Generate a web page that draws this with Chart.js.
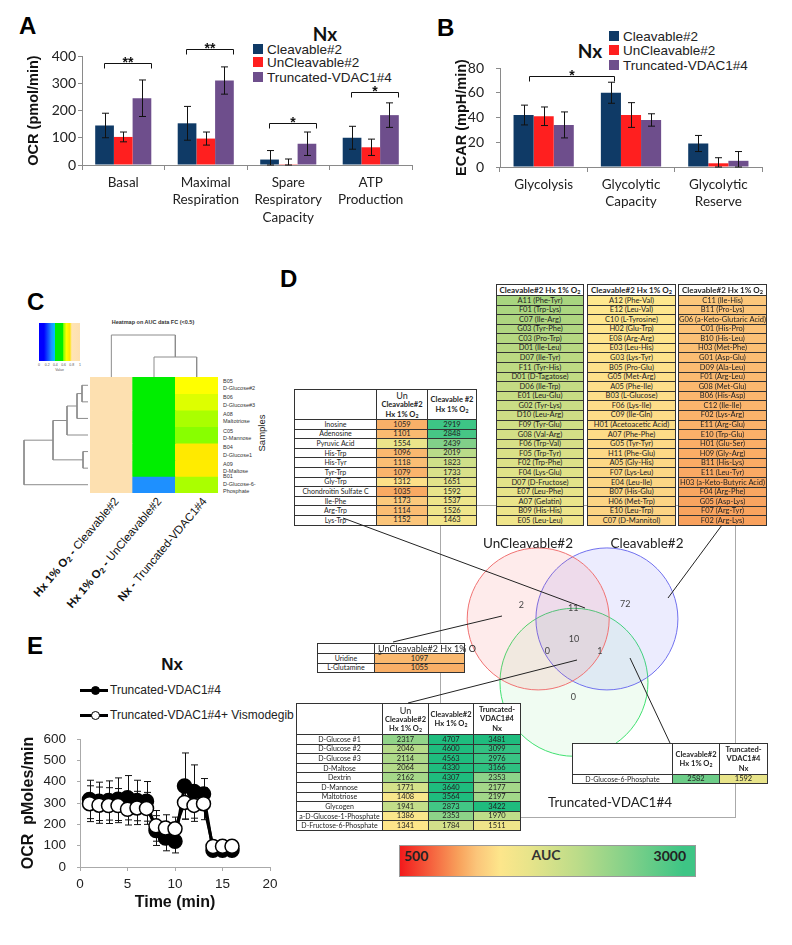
<!DOCTYPE html>
<html>
<head>
<meta charset="utf-8">
<title>Nx / Hx metabolic panels</title>
<script src="https://cdn.jsdelivr.net/npm/chart.js@4.4.1/dist/chart.umd.min.js"></script>
<style>
  html,body{margin:0;padding:0;background:#fff}
  #fig{position:relative;width:792px;height:945px;overflow:hidden;font-family:'Liberation Sans',Arial,sans-serif;color:#111}
  #fig canvas{position:absolute}
  .txt{position:absolute;white-space:nowrap;line-height:1}
  .panel{font-weight:bold;font-size:24px;color:#000}
  .sw{position:absolute;width:10px;height:10px}
  .grid{position:absolute;display:grid;border-top:1px solid #333;border-left:1px solid #333;background:#fff;z-index:3;font-family:Lato,sans-serif;color:#222}
  .grid>div{border-right:1px solid #333;border-bottom:1px solid #333;box-sizing:border-box;display:flex;flex-direction:column;align-items:center;justify-content:center;text-align:center;white-space:nowrap;overflow:hidden;line-height:1}
  sub{font-size:70%;vertical-align:-0.2em;line-height:0}
</style>
</head>
<body>
<div id="fig"></div>
<script>
/* ═══════════════════════════════════════
   Data
═══════════════════════════════════════ */
const GROUPS = ['Cleavable#2','UnCleavable#2','Truncated-VDAC1#4'];

/* ── A: OCR (Nx) ── */
const OCR_CATS        = [['Basal'],['Maximal','Respiration'],['Spare','Respiratory','Capacity'],['ATP','Production']];
const OCR_CLEAV       = [145,153,20,100];
const OCR_CLEAV_ERR   = [45,62,33,42];
const OCR_UNCLEAV     = [103,97,3,65];
const OCR_UNCLEAV_ERR = [18,24,19,30];
const OCR_TRUNC       = [245,310,78,183];
const OCR_TRUNC_ERR   = [67,50,43,45];
const OCR_TICKS       = [0,100,200,300,400];
const OCR_SIG_Y       = [375,425,155,267];
const OCR_SIG_MARK    = ['**','**','*','*'];

/* ── B: ECAR (Nx) ── */
const ECAR_CATS        = ['Glycolysis',['Glycolytic','Capacity'],['Glycolytic','Reserve']];
const ECAR_CLEAV       = [42,60,19];
const ECAR_CLEAV_ERR   = [8,8.5,6.5];
const ECAR_UNCLEAV     = [41,42,3];
const ECAR_UNCLEAV_ERR = [7.5,10,4.5];
const ECAR_TRUNC       = [34,38,5];
const ECAR_TRUNC_ERR   = [10.5,5,7.5];
const ECAR_TICKS       = [0,20,40,60,80];
const ECAR_SIG_Y       = 73.5;

/* ── C: heatmap on AUC FC ── */
const HEAT_COLS    = ['Hx 1% O<sub>2</sub> - ','Hx 1% O<sub>2</sub> - ','Nx - '];
const HEAT_COLS_B  = ['Cleavable#2','UnCleavable#2','Truncated-VDAC1#4'];
const HEAT_WELLS   = ['B05','B06','A08','C05','B04','A09','B01'];
const HEAT_ROWS    = ['D-Glucose#2','D-Glucose#3','Maltotriose','D-Mannose','D-Glucose1','D-Maltose','D-Glucose-6-<br>Phosphate'];
const HEAT_CLEAV   = [1,1,1,1,1,1,1];
const HEAT_UNCLEAV = [0.44,0.46,0.40,0.49,0.49,0.48,0.30];
const HEAT_TRUNC   = [0.67,0.65,0.62,0.60,0.74,0.73,0.62];
const ROW_TREE     = [[0,1,6],[7,2,11],[8,3,21],[4,5,5],[9,10,35],[11,6,64]];
const COL_TREE     = [[1,2,20],[0,3,42]];
const KEY_TICKS    = ['0','0.2','0.4','0.6','0.8','1'];

/* ── D: Biolog AUC tables + venn ── */
const LEFT_NAMES = ['Inosine','Adenosine','Pyruvic Acid','His-Trp','His-Tyr','Tyr-Trp','Gly-Trp','Chondroitin Sulfate C','Ile-Phe','Arg-Trp','Lys-Trp'];
const LEFT_UN    = [1059,1101,1554,1096,1118,1079,1312,1035,1173,1114,1152];
const LEFT_CL    = [2919,2848,2439,2019,1823,1733,1651,1592,1537,1526,1463];

const URI_NAMES = ['Uridine','L-Glutamine'];
const URI_UN    = [1097,1055];

const BOT_NAMES = ['D-Glucose #1','D-Glucose #2','D-Glucose #3','D-Maltose','Dextrin','D-Mannose','Maltotriose','Glycogen','a-D-Glucose-1-Phosphate','D-Fructose-6-Phosphate'];
const BOT_UN    = [2317,2046,2114,2064,2162,1771,1408,1941,1386,1341];
const BOT_CL    = [4707,4600,4563,4330,4307,3640,3564,2873,2353,1784];
const BOT_TR    = [3481,3099,2976,3166,2353,2177,2197,3422,1970,1511];

const G6P_NAME = ['D-Glucose-6-Phosphate'];
const G6P_CL   = [2582];
const G6P_TR   = [1592];

const TOP_COL1 = ['A11 (Phe-Tyr)','F01 (Trp-Lys)','C07 (Ile-Arg)','G03 (Tyr-Phe)','C03 (Pro-Trp)','D01 (Ile-Leu)','D07 (Ile-Tyr)','F11 (Tyr-His)','D01 (D-Tagatose)','D06 (Ile-Trp)','E01 (Leu-Glu)','G02 (Tyr-Lys)','D10 (Leu-Arg)','F09 (Tyr-Glu)','G08 (Val-Arg)','F06 (Trp-Val)','F05 (Trp-Tyr)','F02 (Trp-Phe)','F04 (Lys-Glu)','D07 (D-Fructose)','E07 (Leu-Phe)','A07 (Gelatin)','B09 (His-His)','E05 (Leu-Leu)'];
const TOP_COL2 = ['A12 (Phe-Val)','E12 (Leu-Val)','C10 (L-Tyrosine)','H02 (Glu-Trp)','E08 (Arg-Arg)','E03 (Leu-His)','G03 (Lys-Tyr)','B05 (Pro-Glu)','G05 (Met-Arg)','A05 (Phe-Ile)','B03 (L-Glucose)','F06 (Lys-Ile)','C09 (Ile-Gln)','H01 (Acetoacetic Acid)','A07 (Phe-Phe)','G05 (Tyr-Tyr)','H11 (Phe-Glu)','A05 (Gly-His)','F07 (Lys-Leu)','E04 (Leu-Ile)','B07 (His-Glu)','H06 (Met-Trp)','E10 (Leu-Trp)','C07 (D-Mannitol)'];
const TOP_COL3 = ['C11 (Ile-His)','B11 (Pro-Lys)','G06 (a-Keto-Glutaric Acid)','C01 (His-Pro)','B10 (His-Leu)','H03 (Met-Phe)','G01 (Asp-Glu)','D09 (Ala-Leu)','F01 (Arg-Leu)','G08 (Met-Glu)','B06 (His-Asp)','C12 (Ile-Ile)','F02 (Lys-Arg)','E11 (Arg-Glu)','E10 (Trp-Glu)','H01 (Glu-Ser)','H09 (Gly-Arg)','B11 (His-Lys)','E11 (Leu-Tyr)','H03 (a-Keto-Butyric Acid)','F04 (Arg-Phe)','G05 (Asp-Lys)','F07 (Arg-Tyr)','F02 (Arg-Lys)'];

const VENN_SETS   = ['UnCleavable#2','Cleavable#2','Truncated-VDAC1#4'];
// Un only, Un∩Cl, Cl only, all three, Un∩Tr, Cl∩Tr, Tr only
const VENN_COUNTS = [2,11,72,10,0,1,0];
const AUC_RANGE   = [500,3000];

/* ── E: OCR time course ── */
const TIME_MIN  = [1,2,3,4,5,6,7,8,9,10,11,12,13,14,15,16];
const OCR_T     = [317,308,312,318,325,312,308,171,136,121,380,354,343,79,78,78];
const OCR_T_ERR = [90,90,92,100,104,95,93,70,60,55,155,125,72,0,0,0];
const OCR_V     = [297,290,288,288,271,277,275,193,183,179,303,289,297,96,97,97];
const OCR_V_ERR = [84,85,84,80,74,78,75,72,62,55,79,75,75,0,0,0];
const TIME_TICKS = [0,5,10,15,20];
const OCRE_TICKS = [0,100,200,300,400,500,600];

/* ═══════════════════════════════════════
   Helpers
═══════════════════════════════════════ */
const GROUP_COLORS = ['#0f3a66','#ff1f1f','#6e4e8c'];
const fig = document.getElementById('fig');
Chart.defaults.animation = false;
Chart.defaults.font.family = "'Liberation Sans', Arial, sans-serif";
Chart.defaults.color = '#222';

function put(html, css) {
  const d = document.createElement('div');
  d.className = 'txt';
  d.innerHTML = html;
  d.style.cssText += css;
  fig.appendChild(d);
  return d;
}
function canvas(id, x, y, w, h, z) {
  const c = document.createElement('canvas');
  c.id = id; c.width = w; c.height = h;
  c.style.left = x + 'px'; c.style.top = y + 'px'; c.style.zIndex = z || 1;
  if (z >= 5) c.style.pointerEvents = 'none';
  fig.appendChild(c);
  return c;
}
function hex(c) { return [1,3,5].map(i => parseInt(c.substr(i,2),16)); }
function mix(stops, v) {
  if (v <= stops[0][0]) return stops[0][1];
  for (let i = 1; i < stops.length; i++) {
    if (v <= stops[i][0]) {
      const [a, ca] = stops[i-1], [b, cb] = stops[i];
      const t = (v - a) / (b - a), A = hex(ca), B = hex(cb);
      return 'rgb(' + A.map((x,k) => Math.round(x + (B[k]-x)*t)).join(',') + ')';
    }
  }
  return stops[stops.length-1][1];
}
function ramp(c0, c1, n, i) { return mix([[0,c0],[1,c1]], n > 1 ? i/(n-1) : 0); }

const AUC_STOPS = [[500,'#f21a1c'],[1000,'#f8a25c'],[1150,'#fbc57a'],[1350,'#fde68b'],[1600,'#e7e48a'],[2000,'#bcdc89'],[2450,'#80d089'],[2900,'#3ec585'],[3400,'#1fbc7e']];
const aucColor = v => mix(AUC_STOPS, v);
const HEAT_STOPS = [[0,'#0000ff'],[0.12,'#0000ff'],[0.3,'#1e90ff'],[0.38,'#00bfff'],[0.4,'#00ee00'],[0.58,'#00ee00'],[0.6,'#88ff00'],[0.67,'#ffff00'],[0.75,'#ffe600'],[0.8,'#ffe4b5'],[1,'#fde0b0']];
const heatColor = v => mix(HEAT_STOPS, v);

/* ── plugins ── */
function drawErrors(chart) {
  const ctx = chart.ctx;
  chart.data.datasets.forEach((ds, i) => {
    if (!ds.errors) return;
    const meta = chart.getDatasetMeta(i), ys = chart.scales[meta.yAxisID];
    ctx.save(); ctx.strokeStyle = '#111'; ctx.lineWidth = 1;
    meta.data.forEach((el, j) => {
      const raw = ds.data[j], v = typeof raw === 'object' ? raw.y : raw, e = ds.errors[j];
      if (!e) return;
      const top = ys.getPixelForValue(v + e), bot = ys.getPixelForValue(Math.max(v - e, ys.min));
      const x = Math.round(el.x) + 0.5, cap = ds.errorCap || 3.5;
      ctx.beginPath();
      ctx.moveTo(x, top); ctx.lineTo(x, bot);
      ctx.moveTo(x - cap, top); ctx.lineTo(x + cap, top);
      ctx.moveTo(x - cap, bot); ctx.lineTo(x + cap, bot);
      ctx.stroke();
    });
    ctx.restore();
  });
}
const errorBarPlugin = {
  id: 'errBars',
  beforeDatasetsDraw(chart, a, o) { if (o.behind) drawErrors(chart); },
  afterDatasetsDraw(chart, a, o) { if (!o.behind) drawErrors(chart); }
};
const sigPlugin = {
  id: 'sigBrackets',
  afterDatasetsDraw(chart, a, o) {
    const {ctx} = chart, ys = chart.scales.y;
    (o.items || []).forEach(it => {
      const p = chart.getDatasetMeta(it.a[1]).data[it.a[0]];
      const q = chart.getDatasetMeta(it.b[1]).data[it.b[0]];
      const x1 = Math.round(p.x + o.lo) + 0.5, x2 = Math.round(q.x + o.ro) + 0.5, y = Math.round(ys.getPixelForValue(it.y)) + 0.5;
      ctx.save();
      ctx.strokeStyle = '#111'; ctx.lineWidth = 1;
      ctx.beginPath(); ctx.moveTo(x1, y + 5); ctx.lineTo(x1, y); ctx.lineTo(x2, y); ctx.lineTo(x2, y + 5); ctx.stroke();
      ctx.fillStyle = '#111'; ctx.font = "bold 14px 'Liberation Sans'"; ctx.textAlign = 'center'; ctx.textBaseline = 'alphabetic';
      ctx.fillText(it.text, (x1 + x2) / 2, y + 3);
      ctx.restore();
    });
  }
};
const textPlugin = {
  id: 'pointText',
  afterDatasetsDraw(chart) {
    const ctx = chart.ctx;
    chart.data.datasets.forEach((ds, i) => {
      if (!ds.texts) return;
      ctx.save(); ctx.font = ds.textFont; ctx.fillStyle = ds.textColor; ctx.textAlign = 'center'; ctx.textBaseline = 'middle';
      chart.getDatasetMeta(i).data.forEach((el, j) => ctx.fillText(ds.texts[j], el.x, el.y));
      ctx.restore();
    });
  }
};

/* ═══════════════════════════════════════
   A / B: grouped bars
═══════════════════════════════════════ */
function buildBars(id, g, labels, vals, errs, ticks, yTitle, sig) {
  const c = canvas(id, g.x, g.y, g.w, g.h, 1);
  return new Chart(c, {
    type: 'bar',
    data: {
      labels,
      datasets: vals.map((v, i) => ({
        label: GROUPS[i], data: v, errors: errs[i], backgroundColor: GROUP_COLORS[i],
        borderWidth: 0, categoryPercentage: g.cat, barPercentage: 1
      }))
    },
    options: {
      responsive: false, animation: false, events: [],
      layout: { padding: g.pad },
      plugins: { legend: { display: false }, tooltip: { enabled: false }, errBars: {}, sigBrackets: { items: sig, lo: g.lo, ro: g.ro } },
      scales: {
        x: {
          grid: { display: true, drawOnChartArea: false, tickLength: 5, color: '#8a8a8a' },
          border: { color: '#8a8a8a' },
          ticks: { font: { family: 'Lato', size: 13.5, lineHeight: 1.28 }, color: '#222', padding: 4, maxRotation: 0, autoSkip: false },
          afterFit: s => { s.height = g.xh; }
        },
        y: {
          min: ticks[0], max: ticks[ticks.length - 1],
          ticks: { stepSize: ticks[1] - ticks[0], font: { family: 'Lato', size: 14 }, color: '#222', padding: g.tp },
          grid: { display: true, drawOnChartArea: false, tickLength: 4, color: '#8a8a8a' },
          border: { color: '#8a8a8a' },
          title: { display: true, text: yTitle, color: '#111', font: { size: 14.5, weight: 'bold' }, padding: { top: g.titlePad, bottom: 0 } },
          afterFit: s => { s.width = g.yw; }
        }
      }
    },
    plugins: [errorBarPlugin, sigPlugin]
  });
}

function legend(x, ys, nx, ny, size) {
  put('Nx', `left:${nx}px;top:${ny}px;transform:translate(-50%,-50%);font:bold 19px Lato`);
  GROUPS.forEach((g, i) => {
    const s = document.createElement('div');
    s.className = 'sw';
    s.style.cssText += `left:${x}px;top:${ys[i]-5}px;background:${GROUP_COLORS[i]}`;
    fig.appendChild(s);
    put(g, `left:${x+14}px;top:${ys[i]-6.5}px;font-size:${size}px;color:#222`);
  });
}

buildBars('ocrChart',
  { x:0, y:0, w:420, h:228, pad:{left:0, top:56, right:8, bottom:0}, yw:82, xh:63, cat:0.68, tp:2, titlePad:25, lo:-1, ro:9 },
  OCR_CATS, [OCR_CLEAV, OCR_UNCLEAV, OCR_TRUNC], [OCR_CLEAV_ERR, OCR_UNCLEAV_ERR, OCR_TRUNC_ERR],
  OCR_TICKS, 'OCR (pmol/min)',
  OCR_SIG_Y.map((y, k) => ({ a:[k,0], b:[k,2], y, text: OCR_SIG_MARK[k] })));
legend(253, [49,62,77], 325, 33, 13.5);

buildBars('ecarChart',
  { x:415, y:0, w:377, h:228, pad:{left:0, top:68, right:30, bottom:0}, yw:85, xh:61, cat:0.69, tp:12, titlePad:38, lo:5, ro:3 },
  ECAR_CATS, [ECAR_CLEAV, ECAR_UNCLEAV, ECAR_TRUNC], [ECAR_CLEAV_ERR, ECAR_UNCLEAV_ERR, ECAR_TRUNC_ERR],
  ECAR_TICKS, 'ECAR (mpH/min)',
  [{ a:[0,0], b:[1,0], y: ECAR_SIG_Y, text:'*' }]);
legend(609, [36,50,65], 590, 50, 13.5);

put('A', 'left:19px;top:14px').className += ' panel';
put('B', 'left:437px;top:16px').className += ' panel';

/* ═══════════════════════════════════════
   C: heatmap + dendrograms
═══════════════════════════════════════ */
(function buildHeatmap() {
  const c = canvas('heatChart', 90, 377, 128, 116, 1);
  const colVals = [HEAT_CLEAV, HEAT_UNCLEAV, HEAT_TRUNC];
  new Chart(c, {
    type: 'bar',
    data: {
      labels: HEAT_COLS_B,
      datasets: HEAT_ROWS.map((r, i) => ({
        label: HEAT_WELLS[i], data: colVals.map(() => 1),
        backgroundColor: colVals.map(v => heatColor(v[i])),
        borderWidth: 0, categoryPercentage: 1, barPercentage: 1, stack: 's'
      }))
    },
    options: {
      responsive: false, animation: false, events: [], layout: { padding: 0 },
      plugins: { legend: { display: false }, tooltip: { enabled: false } },
      scales: {
        x: { stacked: true, display: false },
        y: { stacked: true, display: false, min: 0, max: HEAT_ROWS.length, reverse: true }
      }
    }
  });

  function treeSegments(n, merges, leafPos) {
    const pos = [], h = [];
    for (let i = 0; i < n; i++) { pos.push(leafPos(i)); h.push(0); }
    const segs = [];
    merges.forEach(([a, b, d]) => {
      segs.push([[pos[a], h[a]], [pos[a], d], [pos[b], d], [pos[b], h[b]]]);
      pos.push((pos[a] + pos[b]) / 2); h.push(d);
    });
    return segs;
  }
  const lineDs = pts => ({ data: pts, showLine: true, borderColor: '#8c8c8c', borderWidth: 1, pointRadius: 0, tension: 0 });
  const dendroOpts = (xs, ys) => ({
    responsive: false, animation: false, events: [], layout: { padding: 0 },
    plugins: { legend: { display: false }, tooltip: { enabled: false } },
    scales: { x: Object.assign({ type: 'linear', display: false }, xs), y: Object.assign({ type: 'linear', display: false }, ys) }
  });

  const rowSegs = treeSegments(HEAT_ROWS.length, ROW_TREE, i => i + 0.5);
  new Chart(canvas('rowTree', 18, 377, 70, 116, 1), {
    type: 'scatter',
    data: { datasets: rowSegs.map(s => lineDs(s.map(([p, d]) => ({ x: d, y: p })))) },
    options: dendroOpts({ min: 0, max: 70, reverse: true }, { min: 0, max: HEAT_ROWS.length, reverse: true })
  });
  const colSegs = treeSegments(HEAT_COLS_B.length, COL_TREE, i => i + 0.5);
  new Chart(canvas('colTree', 90, 330, 128, 47, 1), {
    type: 'scatter',
    data: { datasets: colSegs.map(s => lineDs(s.map(([p, d]) => ({ x: p, y: d })))) },
    options: dendroOpts({ min: 0, max: HEAT_COLS_B.length }, { min: 0, max: 47 })
  });

  const rh = 116 / HEAT_ROWS.length;
  HEAT_ROWS.forEach((r, i) => {
    const d = put(HEAT_WELLS[i] + '<br>' + r, `left:223px;font-size:5.5px;line-height:7.5px;color:#333`);
    const lines = r.split('<br>').length + 1;
    d.style.top = (377 + rh * (i + 0.5) - lines * 3.75) + 'px';
  });
  put('Samples', 'left:262px;top:433px;font-size:9.5px;color:#222;transform:translate(-50%,-50%) rotate(-90deg)');
  put('Heatmap on AUC data FC (&lt;0.5)', 'left:153px;top:323px;font-size:5.5px;font-weight:bold;color:#333;transform:translate(-50%,-50%)');

  [116, 159, 204].forEach((x, i) => {
    put(`<b>${HEAT_COLS[i]}</b>${HEAT_COLS_B[i]}`,
      `right:${792 - x}px;top:${499 - 7}px;height:14px;line-height:14px;font-size:11.5px;color:#111;transform-origin:100% 50%;transform:rotate(-50deg)`);
  });

  const css = HEAT_STOPS.map(([v, col]) => `${col} ${v * 100}%`).join(',');
  put('', `left:39px;top:323px;width:41px;height:38px;background:linear-gradient(to right,${css})`);
  KEY_TICKS.forEach((t, i) => put(t, `left:${39 + i * 41 / 5}px;top:364px;font-size:3.5px;color:#555;transform:translateX(-50%)`));
  put('Value', 'left:59.5px;top:369px;font-size:3.5px;color:#555;transform:translateX(-50%)');
})();
put('C', 'left:27px;top:290px').className += ' panel';

/* ═══════════════════════════════════════
   D: tables + venn
═══════════════════════════════════════ */
function grid(x, y, cols, rows, cells) {
  const g = document.createElement('div');
  g.className = 'grid';
  g.style.left = x + 'px'; g.style.top = y + 'px';
  g.style.gridTemplateColumns = cols.map(c => c + 'px').join(' ');
  g.style.gridTemplateRows = rows.map(r => r + 'px').join(' ');
  cells.forEach(c => {
    const d = document.createElement('div');
    d.innerHTML = c.h;
    if (c.bg) d.style.background = c.bg;
    if (c.css) d.style.cssText += c.css;
    g.appendChild(d);
  });
  fig.appendChild(g);
  return g;
}
const O2 = 'Hx 1% O<sub>2</sub>';
const hUn = { h: `<div style="font-size:9px;font-weight:normal;margin-bottom:1px">Un</div><div><b>Cleavable#2</b></div><div style="margin-top:2px"><b>${O2}</b></div>`, css: 'font-size:7.5px' };
const hCl = { h: `<div><b>Cleavable#2</b></div><div style="margin-top:2px"><b>${O2}</b></div>`, css: 'font-size:7.5px' };
const hTr = { h: `<div><b>Truncated-</b></div><div style="margin-top:2px"><b>VDAC1#4</b></div><div style="margin-top:2px"><b>Nx</b></div>`, css: 'font-size:7.5px' };
const name = t => ({ h: t, css: 'font-size:7px' });
const val = v => ({ h: String(v), bg: aucColor(v), css: 'font-size:7.5px' });

// hypoxia: UnCleavable vs Cleavable
grid(294, 389, [82, 51, 49], [30].concat(LEFT_NAMES.map(() => 9.6)),
  [{ h: '' }, hUn, { h: `<div><b>Cleavable #2</b></div><div style="margin-top:2px"><b>${O2}</b></div>`, css: 'font-size:7.5px' }]
    .concat(...LEFT_NAMES.map((n, i) => [name(n), val(LEFT_UN[i]), val(LEFT_CL[i])])));

// cleavable-only metabolites, three columns
const TOP_RAMPS = [['#a8d57f', '#f0e58b'], ['#fee88e', '#fcd283'], ['#fcc77b', '#f9a15d']];
[TOP_COL1, TOP_COL2, TOP_COL3].forEach((col, k) => {
  grid([496, 587, 678][k], 284, [k ? 88 : 87], [11].concat(col.map(() => 9.58)),
    [{ h: `<b>Cleavable#2 ${O2}</b>`, css: 'font-size:8px' }]
      .concat(col.map((t, i) => ({ h: t, bg: ramp(TOP_RAMPS[k][0], TOP_RAMPS[k][1], col.length, i), css: 'font-size:7.5px' }))));
});

// uncleavable-only
grid(317, 643, [57, 90], [10, 9.5, 9.5],
  [{ h: '' }, { h: `UnCleavable#2 ${O2}`, css: 'font-size:9px;overflow:visible;align-items:flex-start;padding-left:3px;position:relative;z-index:1' }]
    .concat(...URI_NAMES.map((n, i) => [name(n), val(URI_UN[i])])));

// shared by all three
grid(296, 703, [86, 46, 45, 47], [31].concat(BOT_NAMES.map(() => 9.6)),
  [{ h: '' }, hUn, hCl, hTr]
    .concat(...BOT_NAMES.map((n, i) => [name(n), val(BOT_UN[i]), val(BOT_CL[i]), val(BOT_TR[i])])));

// cleavable ∩ truncated
grid(572, 743, [100, 47, 48], [31, 9],
  [{ h: '' }, hCl, hTr].concat(...G6P_NAME.map((n, i) => [name(n), val(G6P_CL[i]), val(G6P_TR[i])])));

// venn frame
put('', 'left:440px;top:505px;width:294px;height:311px;border:1px solid #aaa;z-index:0');

(function buildVenn() {
  const W = 502, H = 610;             // panel-D frame, origin (290,280)
  const circles = [{ x: 247, y: 350, r: 71 }, { x: 345, y: 350, r: 71 }, { x: 298, y: 434, r: 74 }];
  const countAt = [[223, 331], [297, 335], [371, 330], [298, 377], [260, 392], [335, 392], [297, 454]];
  const fills = ['rgba(250,70,70,0.11)', 'rgba(80,80,250,0.11)', 'rgba(60,220,90,0.08)'];
  const strokes = ['#f07272', '#7070ee', '#40e070'];
  const scales = {
    x: { type: 'linear', min: 0, max: W, display: false },
    y: { type: 'linear', min: 0, max: H, reverse: true, display: false }
  };
  const base = () => ({ responsive: false, animation: false, events: [], layout: { padding: 0 },
    plugins: { legend: { display: false }, tooltip: { enabled: false } }, scales: JSON.parse(JSON.stringify(scales)) });

  new Chart(canvas('vennChart', 290, 280, W, H, 2), {
    type: 'bubble',
    data: { datasets: [
      { label: 'counts', data: countAt.map(p => ({ x: p[0], y: p[1], r: 0 })), texts: VENN_COUNTS.map(String),
        textFont: "9px Lato", textColor: '#444', backgroundColor: 'transparent', borderWidth: 0 }
    ].concat(VENN_SETS.map((s, i) => ({ label: s, data: [circles[i]], backgroundColor: fills[i], borderColor: strokes[i], borderWidth: 1 }))) },
    options: base(),
    plugins: [textPlugin]
  });

  // leader lines from venn regions to the tables
  const leaders = [[[53, 238], [295, 328]], [[378, 318], [432, 245]], [[212, 336], [103, 362]], [[287, 380], [118, 423]], [[340, 378], [380, 463]]];
  new Chart(canvas('leaderChart', 290, 280, W, H, 5), {
    type: 'scatter',
    data: { datasets: leaders.map(l => ({ data: l.map(p => ({ x: p[0], y: p[1] })), showLine: true, borderColor: '#222', borderWidth: 1, pointRadius: 0 })) },
    options: base()
  });

  put(VENN_SETS[0], 'left:528px;top:543px;font:13.5px Lato;color:#222;transform:translate(-50%,-50%);z-index:2');
  put(VENN_SETS[1], 'left:647px;top:543px;font:13.5px Lato;color:#222;transform:translate(-50%,-50%);z-index:2');
  put(VENN_SETS[2], 'left:610px;top:802px;font:13.5px Lato;color:#222;transform:translate(-50%,-50%);z-index:2');
})();

// AUC colour bar
(function () {
  const [lo, hi] = AUC_RANGE;
  const css = AUC_STOPS.filter(s => s[0] <= hi).map(([v, c]) => `${c} ${((v - lo) / (hi - lo) * 100).toFixed(1)}%`).join(',');
  put('', `left:399px;top:845px;width:295px;height:30px;border:1px solid #999;background:linear-gradient(to right,${css})`);
  put(String(lo), 'left:404px;top:847px;font:bold 14px Lato;color:#222');
  put('AUC', 'left:546px;top:854px;font:bold 14px Lato;color:#333;transform:translate(-50%,-50%)');
  put(String(hi), 'right:106px;top:847px;font:bold 14px Lato;color:#222');
})();
put('D', 'left:280px;top:267px').className += ' panel';

/* ═══════════════════════════════════════
   E: OCR time course
═══════════════════════════════════════ */
(function buildTimeCourse() {
  const c = canvas('timeChart', 0, 720, 290, 200, 1);
  const pts = ys => TIME_MIN.map((t, i) => ({ x: t, y: ys[i] }));
  new Chart(c, {
    type: 'line',
    data: { datasets: [
      { label: 'Truncated-VDAC1#4+ Vismodegib', data: pts(OCR_V), errors: OCR_V_ERR, errorCap: 3.5, order: 0,
        borderColor: '#000', borderWidth: 3, tension: 0, pointRadius: 7, pointBackgroundColor: '#fff', pointBorderColor: '#000', pointBorderWidth: 1.5 },
      { label: 'Truncated-VDAC1#4', data: pts(OCR_T), errors: OCR_T_ERR, errorCap: 3.5, order: 1,
        borderColor: '#000', borderWidth: 3, tension: 0, pointRadius: 7, pointBackgroundColor: '#000', pointBorderColor: '#000', pointBorderWidth: 1.5 }
    ] },
    options: {
      responsive: false, animation: false, events: [],
      layout: { padding: { left: 0, top: 7, right: 20, bottom: 0 } },
      plugins: { legend: { display: false }, tooltip: { enabled: false }, errBars: { behind: true } },
      scales: {
        x: { type: 'linear', min: TIME_TICKS[0], max: TIME_TICKS[TIME_TICKS.length - 1],
          ticks: { stepSize: TIME_TICKS[1] - TIME_TICKS[0], font: { size: 13.5 }, color: '#222', padding: 5 },
          grid: { display: true, drawOnChartArea: false, tickLength: 4, color: '#aaa' }, border: { color: '#aaa' },
          title: { display: true, text: 'Time (min)', color: '#111', font: { size: 16, weight: 'bold' }, padding: { top: 0, bottom: 8 } },
          afterFit: s => { s.height = 53; } },
        y: { min: OCRE_TICKS[0], max: OCRE_TICKS[OCRE_TICKS.length - 1],
          ticks: { stepSize: OCRE_TICKS[1] - OCRE_TICKS[0], font: { size: 13.5 }, color: '#222', padding: 11 },
          grid: { display: true, drawOnChartArea: false, tickLength: 3, color: '#aaa' }, border: { color: '#aaa' },
          title: { display: true, text: 'OCR  pMoles/min', color: '#111', font: { size: 16, weight: 'bold' }, padding: { top: 19, bottom: 0 } },
          afterFit: s => { s.width = 80; } }
      }
    },
    plugins: [errorBarPlugin]
  });

  put('Nx', 'left:172px;top:664px;transform:translate(-50%,-50%);font-weight:bold;font-size:17px');
  [['Truncated-VDAC1#4', '#000', 690], ['Truncated-VDAC1#4+ Vismodegib', '#fff', 715]].forEach(([t, fill, y]) => {
    put('', `left:80px;top:${y-1.5}px;width:28px;height:3px;background:#000`);
    put('', `left:${95-4.5}px;top:${y-4.5}px;width:7px;height:7px;border:1px solid #000;border-radius:50%;background:${fill}`);
    put(t, `left:110px;top:${y-6}px;font-size:12px;color:#222`);
  });
})();
put('E', 'left:27px;top:634px').className += ' panel';
</script>
</body>
</html>
